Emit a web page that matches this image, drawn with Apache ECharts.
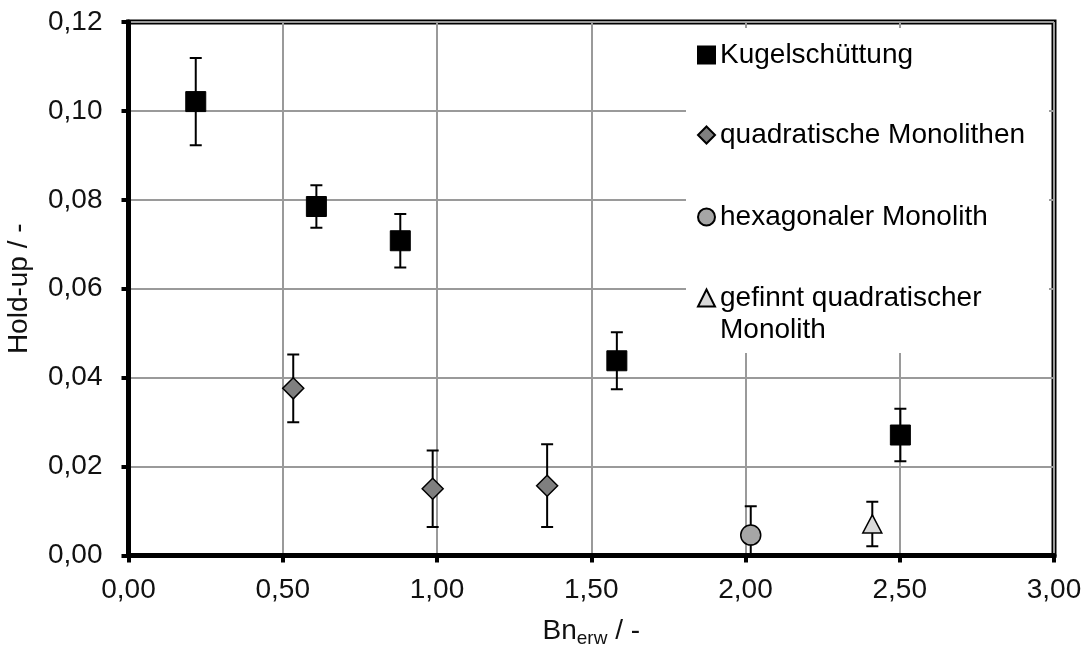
<!DOCTYPE html>
<html>
<head>
<meta charset="utf-8">
<script src="https://cdn.jsdelivr.net/npm/echarts@6/dist/echarts.min.js"></script>
<style>
  html, body { margin: 0; padding: 0; background: #fff; }
  #chart { width: 1085px; height: 648px; }
</style>
</head>
<body>
<div id="chart"></div>
<script>
// Hold-up over extended Bond number, with error bars (± standard deviation)
const nameKugel = 'Kugelschüttung';
const xKugel = [0.218, 0.609, 0.881, 1.583, 2.502];
const yKugel = [0.1021, 0.0785, 0.0708, 0.0438, 0.0271];
const eKugel = [0.0098, 0.0048, 0.0060, 0.0064, 0.0059];

const nameQuad = 'quadratische Monolithen';
const xQuad = [0.534, 0.986, 1.357];
const yQuad = [0.0376, 0.0150, 0.0157];
const eQuad = [0.0076, 0.0086, 0.0093];

const nameHex = 'hexagonaler Monolith';
const xHex = [2.017];
const yHex = [0.0046];
const eHex = [0.0065];

const nameFin = 'gefinnt quadratischer Monolith';
const xFin = [2.411];
const yFin = [0.0071];
const eFin = [0.0050];

const xTicks = { min: 0, max: 3, interval: 0.5 };
const yTicks = { min: 0, max: 0.12, interval: 0.02 };

const FONT = 'Liberation Sans, Arial, sans-serif';
const FS = 28;
const TXT = '#111';

function points(xs, ys) { return xs.map((x, i) => [x, ys[i]]); }
function bars(xs, ys, es) { return xs.map((x, i) => [x, ys[i] - es[i], ys[i] + es[i]]); }
const comma = v => v.toFixed(2).replace('.', ',');

function errorBarSeries(data) {
  return {
    type: 'custom',
    data: data,
    z: 1,
    clip: true,
    silent: true,
    renderItem: function (params, api) {
      const x = api.value(0);
      const lo = api.coord([x, api.value(1)]);
      const hi = api.coord([x, api.value(2)]);
      const cap = 6;
      const style = { stroke: '#000', lineWidth: 2 };
      return {
        type: 'group',
        children: [
          { type: 'line', shape: { x1: lo[0], y1: lo[1], x2: hi[0], y2: hi[1] }, style: style },
          { type: 'line', shape: { x1: lo[0] - cap, y1: lo[1], x2: lo[0] + cap, y2: lo[1] }, style: style },
          { type: 'line', shape: { x1: hi[0] - cap, y1: hi[1], x2: hi[0] + cap, y2: hi[1] }, style: style }
        ]
      };
    }
  };
}

function legendAt(name, icon, top, extra) {
  return Object.assign({
    data: [{ name: name, icon: icon }],
    left: 697,
    top: top,
    padding: 0,
    itemWidth: 17,
    itemHeight: 17,
    itemGap: 0,
    selectedMode: false,
    textStyle: { fontFamily: FONT, fontSize: FS, color: '#000' }
  }, extra || {});
}

const chart = echarts.init(document.getElementById('chart'), null, { renderer: 'canvas' });

chart.setOption({
  animation: false,
  backgroundColor: '#fff',
  grid: {
    left: 128.5, right: 31, top: 22, bottom: 92.5,
    outerBoundsMode: 'none',
    containLabel: false,
    show: true, borderColor: '#000', borderWidth: 5, backgroundColor: 'transparent'
  },
  graphic: [{
    type: 'rect',
    z: 3,
    shape: { x: 686, y: 28, width: 363, height: 325 },
    style: { fill: '#fff' }
  }],
  legend: [
    legendAt(nameKugel, 'rect', 41),
    legendAt(nameQuad, 'diamond', 121),
    legendAt(nameHex, 'circle', 203),
    legendAt(nameFin, 'triangle', 250, {
      // leading blank line keeps the icon level with the first text line
      formatter: () => ' \ngefinnt quadratischer\nMonolith',
      textStyle: { fontFamily: FONT, fontSize: FS, color: '#000', lineHeight: 32 }
    })
  ],
  xAxis: {
    type: 'value',
    min: xTicks.min, max: xTicks.max, interval: xTicks.interval,
    name: '{a|Bn}{b|erw}{a| / -}',
    nameLocation: 'middle',
    nameGap: 60,
    nameTextStyle: {
      rich: {
        a: { fontFamily: FONT, fontSize: FS, color: TXT, lineHeight: 32 },
        b: { fontFamily: FONT, fontSize: 19, color: TXT, lineHeight: 32, padding: [14, 0, 0, 0] }
      }
    },
    axisLine: { show: true, onZero: false, lineStyle: { color: '#000', width: 5 } },
    axisTick: { show: true, inside: false, length: 7, lineStyle: { color: '#000', width: 4 } },
    axisLabel: { margin: 21, fontFamily: FONT, fontSize: FS, color: TXT, formatter: comma },
    splitLine: { show: true, lineStyle: { color: '#9a9a9a', width: 2 } }
  },
  yAxis: {
    type: 'value',
    min: yTicks.min, max: yTicks.max, interval: yTicks.interval,
    name: 'Hold-up / -',
    nameLocation: 'middle',
    nameGap: 95,
    nameTextStyle: { fontFamily: FONT, fontSize: FS, color: TXT },
    axisLine: { show: true, onZero: false, lineStyle: { color: '#000', width: 5 } },
    axisTick: { show: true, inside: false, length: 7, lineStyle: { color: '#000', width: 4 } },
    axisLabel: { margin: 26, fontFamily: FONT, fontSize: FS, color: TXT, formatter: comma },
    splitLine: { show: true, lineStyle: { color: '#9a9a9a', width: 2 } }
  },
  series: [
    errorBarSeries(bars(xKugel, yKugel, eKugel)),
    errorBarSeries(bars(xQuad, yQuad, eQuad)),
    errorBarSeries(bars(xHex, yHex, eHex)),
    errorBarSeries(bars(xFin, yFin, eFin)),
    {
      name: nameKugel, type: 'scatter', z: 2,
      symbol: 'rect', symbolSize: 20,
      itemStyle: { color: '#000', borderColor: '#000', borderWidth: 1, opacity: 1 },
      data: points(xKugel, yKugel)
    },
    {
      name: nameQuad, type: 'scatter', z: 2,
      symbol: 'diamond', symbolSize: [21, 21],
      itemStyle: { color: '#7f7f7f', borderColor: '#000', borderWidth: 1.5, opacity: 1 },
      data: points(xQuad, yQuad)
    },
    {
      name: nameHex, type: 'scatter', z: 2,
      symbol: 'circle', symbolSize: 20,
      itemStyle: { color: '#a6a6a6', borderColor: '#000', borderWidth: 1.5, opacity: 1 },
      data: points(xHex, yHex)
    },
    {
      name: nameFin, type: 'scatter', z: 2,
      symbol: 'triangle', symbolSize: [19, 18],
      itemStyle: { color: '#d9d9d9', borderColor: '#000', borderWidth: 1.5, opacity: 1 },
      data: points(xFin, yFin)
    }
  ]
});
</script>
</body>
</html>
